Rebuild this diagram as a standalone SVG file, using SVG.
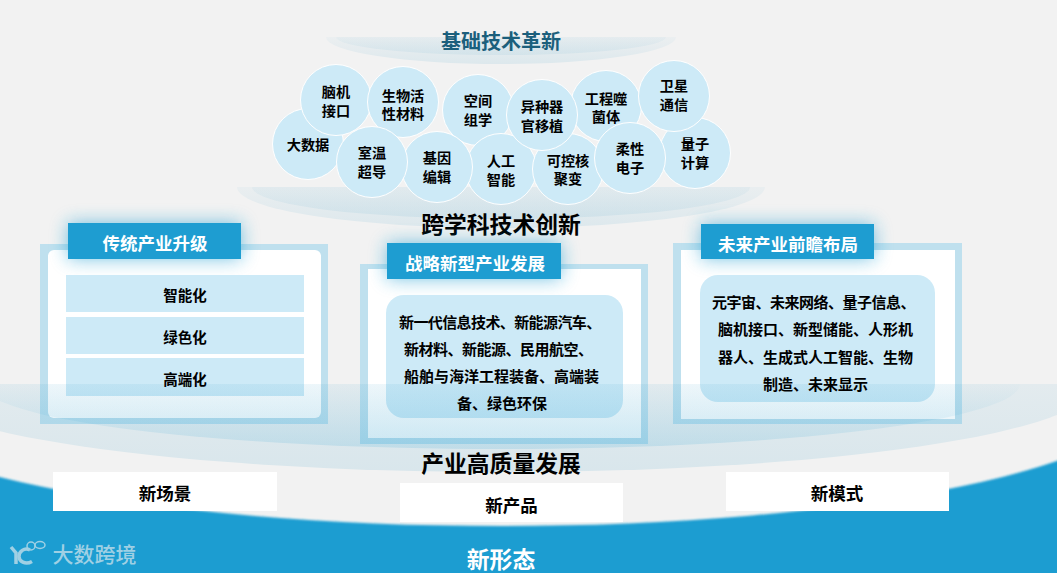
<svg xmlns="http://www.w3.org/2000/svg" width="1057" height="573" viewBox="0 0 1057 573">
<style>
text{font-family:"Noto Sans CJK SC","Noto Sans",sans-serif;font-weight:700;fill:#000;text-anchor:middle}
.c circle{fill:#cdeaf7;stroke:#fff;stroke-width:1}
.c text{font-size:14.2px}
.hd{fill:#1e9dd1}
.glow{fill:#1e9dd1;opacity:.6;filter:url(#b8)}
.ht{fill:#fff;font-size:17.5px}
.ttl{font-size:22.800px}
.out{fill:#bfe0ee}
.row{fill:#cdeaf7}
.rt{font-size:14.5px}
.pt{font-size:15px;text-anchor:start}
.box{fill:#fff}
.bt{font-size:17.5px}
</style>
<defs>
<filter id="b8" x="-30%" y="-60%" width="160%" height="220%"><feGaussianBlur stdDeviation="9"/></filter>
<filter id="b1" x="-2%" y="-2%" width="104%" height="104%"><feGaussianBlur stdDeviation="1.2"/></filter>
<linearGradient id="g1" gradientUnits="userSpaceOnUse" x1="0" y1="384" x2="0" y2="472"><stop offset="0" stop-color="#1e8fbe" stop-opacity=".07"/><stop offset="1" stop-color="#1e8fbe" stop-opacity=".12"/></linearGradient>
<linearGradient id="g2" gradientUnits="userSpaceOnUse" x1="0" y1="384" x2="0" y2="450"><stop offset="0" stop-color="#1e9dd1" stop-opacity=".01"/><stop offset="1" stop-color="#1e9dd1" stop-opacity=".15"/></linearGradient>
<linearGradient id="g3" gradientUnits="userSpaceOnUse" x1="0" y1="187" x2="0" y2="228"><stop offset="0" stop-color="#1e8fbe" stop-opacity=".04"/><stop offset="1" stop-color="#1e8fbe" stop-opacity=".1"/></linearGradient>
<linearGradient id="g4" gradientUnits="userSpaceOnUse" x1="0" y1="37" x2="0" y2="64"><stop offset="0" stop-color="#1e8fbe" stop-opacity=".03"/><stop offset="1" stop-color="#1e8fbe" stop-opacity=".1"/></linearGradient>
<clipPath id="clipLow"><rect x="0" y="384" width="1057" height="189"/></clipPath>
<clipPath id="clipMid"><rect x="0" y="187" width="1057" height="60"/></clipPath>
<clipPath id="clipTop"><rect x="0" y="37" width="1057" height="30"/></clipPath>
</defs>
<rect width="1057" height="573" fill="#f2f2f2"/>

<g id="top-dish" clip-path="url(#clipTop)">
<ellipse cx="501" cy="37" rx="175" ry="27" fill="url(#g4)"/>
<ellipse cx="501" cy="37" rx="165" ry="18" fill="url(#g4)"/>
</g>
<g id="mid-dish" clip-path="url(#clipMid)">
<ellipse cx="501" cy="187" rx="264" ry="41" fill="url(#g3)"/>
<ellipse cx="501" cy="187" rx="249" ry="32" fill="url(#g3)"/>
</g>
<text x="501" y="49" style="font-size:20px;fill:#1b5f7c">基础技术革新</text>

<g id="circles" class="c">
<g id="n-dsj"><circle cx="308" cy="144" r="35.500"/><text x="308" y="150">大数据</text></g>
<g id="n-lz"><circle cx="695" cy="153" r="35.500"/><text x="695" y="149">量子</text><text x="695" y="168">计算</text></g>
<g id="n-nj"><circle cx="336" cy="100" r="35.500"/><text x="336" y="97">脑机</text><text x="336" y="116">接口</text></g>
<g id="n-swh"><circle cx="403" cy="102" r="35.500"/><text x="403" y="101">生物活</text><text x="403" y="119">性材料</text></g>
<g id="n-kj"><circle cx="478" cy="110" r="35.500"/><text x="478" y="106">空间</text><text x="478" y="125">组学</text></g>
<g id="n-gc"><circle cx="606" cy="106" r="35.500"/><text x="606" y="104">工程噬</text><text x="606" y="122">菌体</text></g>
<g id="n-wx"><circle cx="674" cy="96" r="35.500"/><text x="674" y="91">卫星</text><text x="674" y="110">通信</text></g>
<g id="n-rg"><circle cx="501" cy="169" r="35.500"/><text x="501" y="166">人工</text><text x="501" y="185">智能</text></g>
<g id="n-kk"><circle cx="568" cy="169" r="35.500"/><text x="568" y="166">可控核</text><text x="568" y="184">聚变</text></g>
<g id="n-jy"><circle cx="437" cy="167" r="35.500"/><text x="437" y="163">基因</text><text x="437" y="182">编辑</text></g>
<g id="n-sw"><circle cx="372" cy="162" r="35.500"/><text x="372" y="158">室温</text><text x="372" y="177">超导</text></g>
<g id="n-yz"><circle cx="542" cy="115" r="35.500"/><text x="542" y="112">异种器</text><text x="542" y="131">官移植</text></g>
<g id="n-rx"><circle cx="630" cy="158" r="35.500"/><text x="630" y="154">柔性</text><text x="630" y="173">电子</text></g>
</g>

<text class="ttl" x="501" y="233">跨学科技术创新</text>

<g id="panel-left">
<rect class="out" x="40" y="244" width="288" height="180"/>
<rect x="48" y="250" width="273" height="168" rx="6" fill="#fff"/>
<rect class="glow" x="68" y="223" width="173" height="36"/>
<rect class="hd" x="68" y="223" width="173" height="36"/>
<rect class="row" x="66" y="275" width="238" height="37"/>
<rect class="row" x="66" y="317" width="238" height="37"/>
<rect class="row" x="66" y="358" width="238" height="38"/>
</g>
<g id="panel-mid">
<rect class="out" x="360" y="264" width="288" height="180"/>
<rect x="368" y="269" width="273" height="169" fill="#fff"/>
<rect class="glow" x="387" y="243" width="174" height="36"/>
<rect class="hd" x="387" y="243" width="174" height="36"/>
<rect class="row" x="386" y="295" width="237" height="123" rx="18"/>
</g>
<g id="panel-right">
<rect class="out" x="673" y="243" width="289" height="181"/>
<rect x="681" y="250" width="274" height="169" fill="#fff"/>
<rect class="glow" x="701" y="224" width="173" height="35"/>
<rect class="hd" x="701" y="224" width="173" height="35"/>
<rect class="row" x="700" y="275" width="235" height="127" rx="18"/>
</g>

<g id="low-dish" clip-path="url(#clipLow)">
<ellipse cx="501" cy="384" rx="594" ry="88" fill="url(#g1)"/>
<ellipse cx="501" cy="384" rx="519" ry="65" fill="url(#g2)"/>
</g>

<g id="labels">
<text class="ht" x="155" y="250">传统产业升级</text>
<text class="rt" x="185" y="301">智能化</text>
<text class="rt" x="185" y="343">绿色化</text>
<text class="rt" x="185" y="385">高端化</text>
<text class="ht" x="475" y="270">战略新型产业发展</text>
<text class="pt" x="399" y="328" style="letter-spacing:-.6px">新一代信息技术、新能源汽车、</text>
<text class="pt" x="404" y="355" style="letter-spacing:-.5px">新材料、新能源、民用航空、</text>
<text class="pt" x="404" y="382">船舶与海洋工程装备、高端装</text>
<text class="pt" x="457" y="409">备、绿色环保</text>
<text class="ht" x="788" y="251">未来产业前瞻布局</text>
<text class="pt" x="712" y="308" style="letter-spacing:-.5px">元宇宙、未来网络、量子信息、</text>
<text class="pt" x="718" y="335">脑机接口、新型储能、人形机</text>
<text class="pt" x="718" y="363">器人、生成式人工智能、生物</text>
<text class="pt" x="763" y="390">制造、未来显示</text>
</g>

<text class="ttl" x="501" y="472">产业高质量发展</text>

<path id="base" d="M-149 391A650 135 0 0 0 1151 391V590H-149Z" fill="#1e9dd1" filter="url(#b1)"/>

<g id="n-scene"><rect class="box" x="53" y="472" width="224" height="39"/><text class="bt" x="165" y="500">新场景</text></g>
<g id="n-product"><rect class="box" x="400" y="483" width="223" height="39"/><text class="bt" x="511.500" y="512">新产品</text></g>
<g id="n-mode"><rect class="box" x="726" y="472" width="223" height="39"/><text class="bt" x="837" y="500">新模式</text></g>

<text class="ttl" x="501" y="568" style="fill:#fff">新形态</text>

<g id="logo" fill="none" stroke="#9fd0e4">
<path d="M11 547l5 6v11" stroke-width="3.500"/>
<path d="M30 550c-6-3-11 2-11 6.500s6 9 13 5" stroke-width="3.500"/>
<circle cx="31" cy="546" r="4" stroke-width="1.500"/>
<ellipse cx="40" cy="545" rx="5" ry="3.500" stroke-width="1.500"/>
<text x="94.500" y="562" stroke="none" style="font-size:21px;font-weight:500;fill:#9fd0e4">大数跨境</text>
</g>
</svg>
